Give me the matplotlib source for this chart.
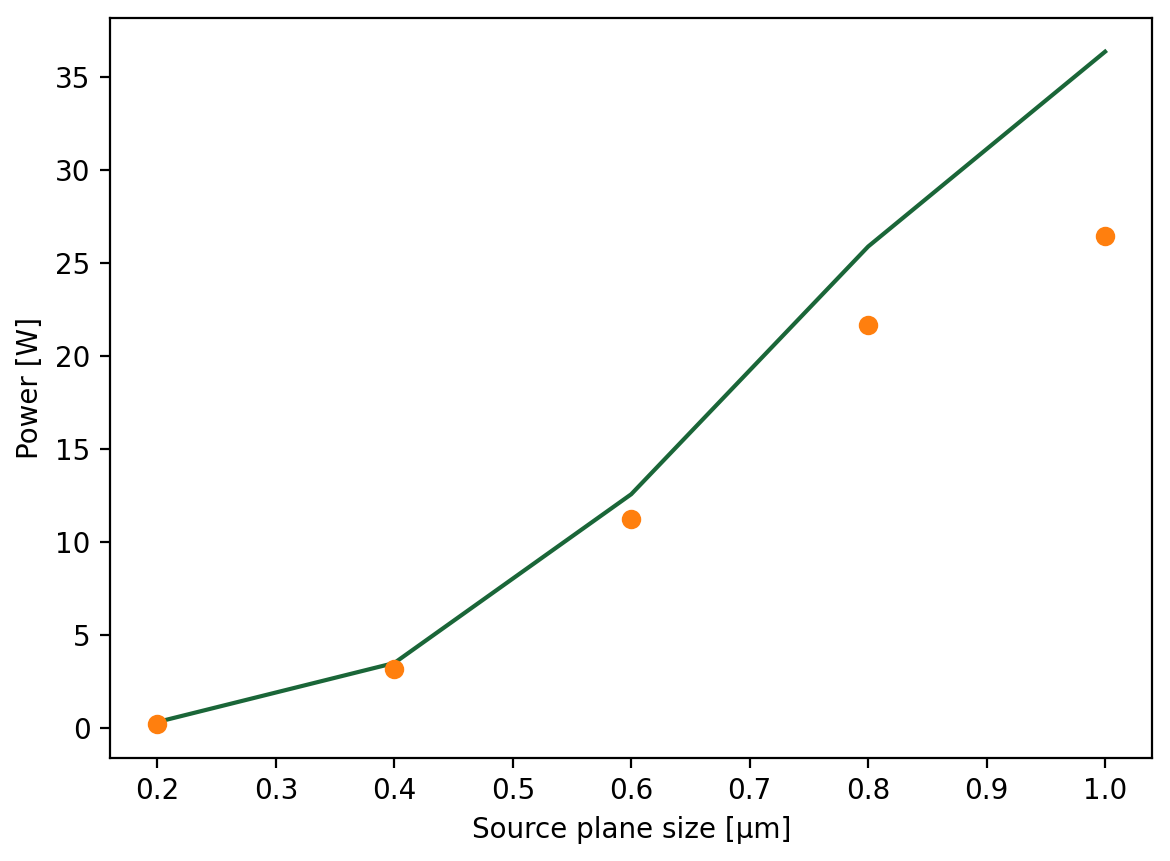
import matplotlib
matplotlib.use("Agg")
import matplotlib.pyplot as plt

# source plane sizes and the two power series
sizes = [0.2, 0.4, 0.6, 0.8, 1.0]
power_line = [0.32, 3.49, 12.56, 25.87, 36.34]
power_points = [0.21, 3.17, 11.22, 21.63, 26.46]

fig, ax = plt.subplots(figsize=(5.85, 4.305), dpi=200)
fig.subplots_adjust(left=0.094, right=0.985, top=0.979, bottom=0.12)

ax.plot(sizes, power_line, color="#1a6638", linewidth=1.5)
ax.plot(sizes, power_points, "o", color="#ff7f0e", markersize=6)

ax.set_xlabel("Source plane size [µm]")
ax.set_ylabel("Power [W]")

fig.savefig("out.png", dpi=200)
